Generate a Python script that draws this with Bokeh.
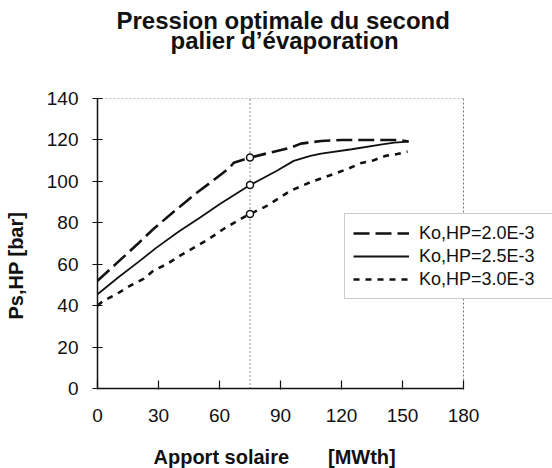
from bokeh.plotting import figure
from bokeh.models import Range1d, Legend, LegendItem, Title
from bokeh.embed import file_html
from bokeh.resources import INLINE

# ---- data ----
title_lines = ["Pression optimale du second", "palier d\u2019\u00e9vaporation"]
x_title = "Apport solaire" + "\u00a0" * 7 + "[MWth]"
y_title = "Ps,HP [bar]"
x_ticks = [0, 30, 60, 90, 120, 150, 180]
y_ticks = [0, 20, 40, 60, 80, 100, 120, 140]
x_limits = (0, 180)
y_limits = (0, 140)
series_names = ["Ko,HP=2.0E-3", "Ko,HP=2.5E-3", "Ko,HP=3.0E-3"]

apport_20 = [0, 10, 20, 27.5, 39, 49, 55, 65, 67, 75, 85, 95, 100, 110, 120, 135, 148, 153]
ps_20 = [52, 61, 70, 77, 86.6, 94.6, 99, 106.6, 109, 111.5, 113.9, 116.3, 118.2, 119.5, 120, 120, 120, 119.2]

apport_25 = [0, 10, 20, 29, 40, 50.5, 60, 75, 88, 96.5, 104.7, 110, 125, 140, 146, 153]
ps_25 = [45.5, 53.5, 61, 68, 75.8, 82.6, 89, 98.2, 105, 109.9, 112.3, 113.4, 115.5, 117.9, 118.7, 119.2]

apport_30 = [0, 3, 9.4, 16, 22.6, 27.5, 34, 40.6, 49, 54.6, 62, 71.8, 75, 83.3, 94.8, 104.7,
             116, 123.5, 129.3, 135.9, 141.6, 147.4, 152.5]
ps_30 = [40, 42.4, 45.6, 49.6, 52.9, 56.9, 60, 64.1, 68.9, 72.1, 77, 82.6, 84.2, 88.2, 95.4, 99.6,
         103.5, 106.2, 108.7, 110.2, 112.3, 113.2, 114.4]

marker_x = [75, 75, 75]
marker_y = [111.5, 98.2, 84.2]
ref_x = 75

FONT = "Liberation Sans"
INK = "#111111"
NBSP = "\u00a0"

# frame spans from x=97 to the right edge so the legend can run past the 180 limit
x_px_per_unit = 366 / 180
x_view_end = (552 - 97) / x_px_per_unit

p = figure(width=552, height=468, output_backend="svg", toolbar_location=None,
           x_range=Range1d(0, x_view_end), y_range=Range1d(*y_limits),
           min_border_left=97, min_border_right=0, min_border_top=98, min_border_bottom=80)
p.background_fill_color = "white"
p.border_fill_color = "white"
p.grid.visible = False
p.outline_line_color = None

# axes
p.xaxis.ticker = x_ticks
p.yaxis.ticker = y_ticks
p.xaxis.bounds = x_limits
for ax in (p.xaxis, p.yaxis):
    ax.axis_line_color = INK
    ax.axis_line_width = 1.5
    ax.major_tick_line_color = INK
    ax.major_tick_line_width = 1.2
    ax.minor_tick_line_color = None
    ax.major_label_text_font = FONT
    ax.major_label_text_font_size = "19px"
    ax.major_label_text_color = INK
p.xaxis.major_tick_in = 8
p.xaxis.major_tick_out = 1
p.xaxis.major_label_standoff = 19
p.yaxis.major_tick_in = 5
p.yaxis.major_tick_out = 5
p.yaxis.major_label_standoff = 14

# faint top and right border of the plotting box
p.segment(x0=[x_limits[0], x_limits[1]], y0=[y_limits[1], y_limits[0]],
          x1=[x_limits[1], x_limits[1]], y1=[y_limits[1], y_limits[1]],
          line_color="#777777", line_width=1, line_dash="2 2")

# vertical dotted reference line
p.line([ref_x, ref_x], list(y_limits), line_color=INK, line_width=1, line_dash="1 3")

r20 = p.line(apport_20, ps_20, line_color=INK, line_width=2.6, line_dash="16 6")
r25 = p.line(apport_25, ps_25, line_color=INK, line_width=1.8)
r30 = p.line(apport_30, ps_30, line_color=INK, line_width=2.6, line_dash="6 6")

p.scatter(marker_x, marker_y, size=7, fill_color="white", line_color=INK, line_width=1.5)

legend = Legend(items=[LegendItem(label=series_names[0], renderers=[r20]),
                       LegendItem(label=series_names[1], renderers=[r25]),
                       LegendItem(label=series_names[2], renderers=[r30])],
                location=(247, 89))
legend.label_text_font = FONT
legend.label_text_font_size = "18px"
legend.label_text_color = INK
legend.glyph_width = 56
legend.glyph_height = 22
legend.label_height = 22
legend.label_width = 150
legend.spacing = 1
legend.padding = 8
legend.margin = 0
legend.label_standoff = 10
legend.border_line_color = "#999999"
legend.border_line_width = 1
legend.background_fill_color = "white"
legend.background_fill_alpha = 1
p.add_layout(legend)


def ttl(text, size, standoff, bold=True, **kw):
    return Title(text=text, standoff=standoff, text_font=FONT, text_font_size=size,
                 text_font_style="bold" if bold else "normal", text_color=INK, **kw)


# titles above: spacer next to the frame, then the two lines
p.add_layout(ttl(NBSP, "24px", 23.6, align="left"), "above")
p.add_layout(ttl(title_lines[1], "24px", -16, align="left", offset=73), "above")
p.add_layout(ttl(title_lines[0], "24px", -2, align="left", offset=19), "above")
# x title below: spacer then text
p.add_layout(ttl(NBSP, "10px", 6, align="left"), "below")
p.add_layout(ttl(x_title, "20px", 0, align="left", offset=56), "below")
# y title left: spacer then text
p.add_layout(ttl(NBSP, "10px", 4.3, align="left"), "left")
p.add_layout(ttl(y_title, "20px", 0, align="left", offset=69), "left")

open("out.html", "w").write(file_html(p, INLINE))
